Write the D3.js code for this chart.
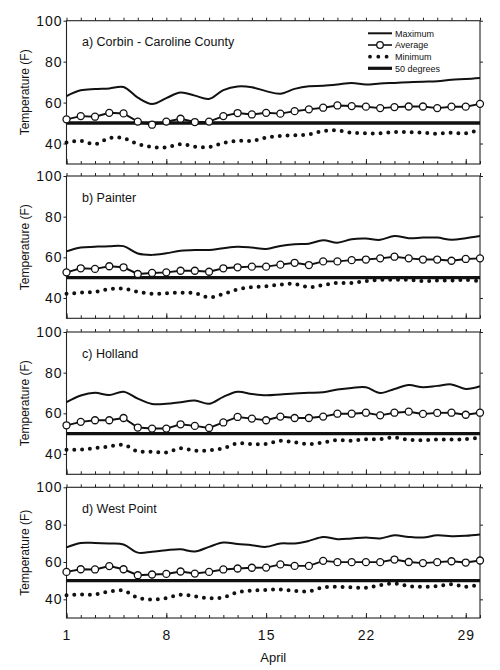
<!DOCTYPE html>
<html>
<head>
<meta charset="utf-8">
<script src="https://cdn.jsdelivr.net/npm/d3@7"></script>
<style>
  body { margin: 0; background: #fff; }
  text { font-family: "Liberation Sans", Arial, sans-serif; fill: #111; }
</style>
</head>
<body>
<div id="chart"></div>
<script>
// days of April
var days = [1,2,3,4,5,6,7,8,9,10,11,12,13,14,15,16,17,18,19,20,21,22,23,24,25,26,27,28,29,30];
var dayLabels = [1, 8, 15, 22, 29];
var yTicks = [40, 60, 80, 100];
var threshold = 50;

var stations = ["a) Corbin - Caroline County", "b) Painter", "c) Holland", "d) West Point"];
var legendNames = ["Maximum", "Average", "Minimum", "50 degrees"];

// (deg F)
var aMax = [63.2,66.0,66.6,66.9,67.6,62.4,59.3,62.2,64.9,63.4,61.8,66.1,67.9,67.5,65.6,64.3,66.7,68.0,68.2,68.8,69.6,68.8,69.3,69.6,69.9,70.2,70.4,71.2,71.5,72.0];
var aAvg = [51.8,53.4,53.1,55.0,54.7,50.7,49.2,50.7,52.1,50.5,50.7,53.4,54.9,54.2,55.0,54.6,55.8,56.7,57.5,58.6,58.3,58.0,57.3,57.8,58.1,58.1,57.3,58.0,58.0,59.4];
var aMin = [40.5,41.3,39.7,42.6,42.6,39.7,38.3,38.1,39.7,38.5,38.3,40.2,41.3,41.3,42.9,43.7,44.0,44.5,46.1,46.4,45.3,45.0,45.0,45.6,45.6,45.3,44.8,45.3,45.0,46.9];

var bMax = [62.9,64.8,65.2,65.5,65.5,61.9,61.2,62.0,63.2,63.6,63.6,64.5,65.2,64.8,64.1,65.6,66.4,66.7,68.4,67.2,68.9,69.2,68.6,70.5,69.4,69.7,69.7,68.6,69.4,70.5];
var bAvg = [52.6,54.6,54.3,55.6,55.1,51.8,52.3,52.6,53.4,53.4,52.9,54.6,55.1,55.4,55.4,56.4,57.3,56.2,58.0,58.0,58.6,58.9,59.5,60.3,59.5,58.9,58.9,58.3,59.2,59.5];
var bMin = [42.1,42.6,43.0,44.4,44.6,43.0,42.1,42.3,42.6,42.4,40.3,42.0,44.2,45.3,45.7,46.6,46.9,45.3,46.4,47.4,47.4,48.3,48.9,48.9,48.9,48.3,48.6,48.6,48.9,48.3];

var cMax = [65.5,68.8,70.1,69.0,70.6,67.2,64.6,64.7,65.5,66.3,64.7,68.1,70.6,69.5,68.9,69.3,69.8,70.1,70.4,71.7,72.5,72.8,70.0,72.0,73.9,72.8,73.5,74.2,72.0,73.3];
var cAvg = [54.1,55.8,56.6,56.6,57.7,53.0,52.5,52.5,54.6,53.8,52.8,55.5,58.2,57.4,56.6,58.4,57.7,57.7,58.4,59.8,59.8,60.3,59.0,60.3,60.8,59.7,60.2,60.3,59.3,60.3];
var cMin = [42.1,42.1,42.9,43.7,44.5,41.3,41.1,40.7,42.8,41.6,41.8,42.8,45.2,44.9,44.9,46.5,45.7,44.9,45.7,46.8,46.5,47.3,47.3,48.1,47.0,46.8,47.1,47.1,47.3,48.1];

var dMax = [67.8,70.2,70.2,69.9,69.4,65.0,65.5,66.3,66.8,65.6,68.1,70.4,69.6,69.0,68.1,69.9,69.9,71.3,73.4,72.2,72.6,73.1,72.6,74.3,73.4,73.1,74.3,73.8,74.0,74.7];
var dAvg = [54.7,56.1,56.0,57.8,56.1,52.9,53.3,53.6,54.9,53.8,54.7,56.0,56.5,56.9,57.0,58.7,57.9,57.9,60.6,59.9,59.9,59.9,59.9,61.3,60.0,59.4,59.9,60.4,59.7,60.8];
var dMin = [42.2,42.6,42.6,44.2,44.7,40.9,39.9,40.6,42.5,41.6,40.6,41.1,43.8,44.7,45.0,45.3,44.5,44.3,46.4,46.7,46.4,46.2,47.6,48.5,47.1,46.7,47.1,48.1,46.7,48.1];

var maxSeries = [aMax, bMax, cMax, dMax];
var avgSeries = [aAvg, bAvg, cAvg, dAvg];
var minSeries = [aMin, bMin, cMin, dMin];

// panel placement (pixels)
var left = 66.5, right = 480;
var panelTop = [20.7, 176, 332, 487.3];
var panelBottom = [164, 318.3, 474.3, 618];

var svg = d3.select("#chart")
  .append("svg")
    .attr("width", 500)
    .attr("height", 670);

var x = d3.scaleLinear()
  .domain([1, 30])
  .range([left, right]);

stations.forEach(function(name, i) {
  var y = d3.scaleLinear()
    .domain([30, 100])
    .range([panelBottom[i], panelTop[i]]);

  var g = svg.append("g");

  // frame
  g.append("rect")
    .attr("x", left)
    .attr("y", panelTop[i])
    .attr("width", right - left)
    .attr("height", panelBottom[i] - panelTop[i])
    .attr("fill", "none")
    .attr("stroke", "#222")
    .attr("stroke-width", 1.1);

  // left axis
  var ya = g.append("g")
    .attr("transform", "translate(" + left + ",0)")
    .call(d3.axisLeft(y).tickValues(yTicks).tickSize(3).tickPadding(1));
  ya.select(".domain").remove();
  ya.selectAll("text")
    .style("font-size", "14px")
    .style("letter-spacing", "1px")
    .attr("fill", "#111");

  // right axis ticks
  var yr = g.append("g")
    .attr("transform", "translate(" + right + ",0)")
    .call(d3.axisRight(y).tickValues(yTicks).tickSize(3).tickFormat(""));
  yr.select(".domain").remove();

  // bottom ticks (daily, inward)
  var xb = g.append("g")
    .attr("transform", "translate(0," + panelBottom[i] + ")")
    .call(d3.axisBottom(x).tickValues(days).tickSizeInner(-3).tickSizeOuter(0).tickFormat(""));
  xb.select(".domain").remove();
  var xbm = g.append("g")
    .attr("transform", "translate(0," + panelBottom[i] + ")")
    .call(d3.axisBottom(x).tickValues(dayLabels).tickSizeInner(-5).tickSizeOuter(0).tickFormat(""));
  xbm.select(".domain").remove();

  // top ticks (daily, outward)
  var xt = g.append("g")
    .attr("transform", "translate(0," + panelTop[i] + ")")
    .call(d3.axisTop(x).tickValues(days).tickSizeInner(3).tickSizeOuter(0).tickFormat(""));
  xt.select(".domain").remove();

  g.selectAll(".tick line").attr("stroke", "#222");

  if (i === stations.length - 1) {
    var xl = g.append("g")
      .attr("transform", "translate(0," + panelBottom[i] + ")")
      .call(d3.axisBottom(x).tickValues(dayLabels).tickSize(0).tickPadding(12));
    xl.select(".domain").remove();
    xl.selectAll("text")
      .style("font-size", "14px")
      .style("letter-spacing", "1px")
      .attr("fill", "#111");
  }

  // y title
  g.append("text")
    .attr("transform", "translate(29," + ((panelTop[i] + panelBottom[i]) / 2) + ") rotate(-90)")
    .attr("text-anchor", "middle")
    .style("font-size", "12px")
    .text("Temperature (F)");

  // station label
  g.append("text")
    .attr("x", 82)
    .attr("y", panelTop[i] + 25.5)
    .style("font-size", "12.5px")
    .text(name);

  // 50 degree line
  g.append("line")
    .attr("x1", x(days[0]))
    .attr("x2", x(days[days.length - 1]))
    .attr("y1", y(threshold))
    .attr("y2", y(threshold))
    .attr("stroke", "#111")
    .attr("stroke-width", 3.4);

  var smooth = d3.line()
    .x(function(d, k) { return x(days[k]); })
    .y(function(d) { return y(d); })
    .curve(d3.curveCatmullRom);

  var straight = d3.line()
    .x(function(d, k) { return x(days[k]); })
    .y(function(d) { return y(d); });

  // minimum: dotted
  g.append("path")
    .attr("d", smooth(minSeries[i]))
    .attr("fill", "none")
    .attr("stroke", "#111")
    .attr("stroke-width", 4)
    .attr("stroke-linecap", "round")
    .attr("stroke-dasharray", "0,7.8");

  // maximum
  g.append("path")
    .attr("d", smooth(maxSeries[i]))
    .attr("fill", "none")
    .attr("stroke", "#111")
    .attr("stroke-width", 2);

  // average
  g.append("path")
    .attr("d", straight(avgSeries[i]))
    .attr("fill", "none")
    .attr("stroke", "#111")
    .attr("stroke-width", 1.9);

  g.selectAll(".avgdot")
    .data(avgSeries[i])
    .enter()
    .append("circle")
      .attr("cx", function(d, k) { return x(days[k]); })
      .attr("cy", function(d) { return y(d); })
      .attr("r", 3.5)
      .attr("fill", "#fff")
      .attr("stroke", "#111")
      .attr("stroke-width", 1.3);
});

// x title
svg.append("text")
  .attr("x", (left + right) / 2)
  .attr("y", 661.5)
  .attr("text-anchor", "middle")
  .style("font-size", "13px")
  .text("April");

// legend (panel a)
var lg = svg.append("g");
var lx1 = 368, lx2 = 392, ltx = 395;
var rowY = [33.3, 45, 56.7, 68.3];

lg.append("line")
  .attr("x1", lx1).attr("x2", lx2).attr("y1", rowY[0]).attr("y2", rowY[0])
  .attr("stroke", "#111").attr("stroke-width", 2);
lg.append("line")
  .attr("x1", lx1).attr("x2", lx2).attr("y1", rowY[1]).attr("y2", rowY[1])
  .attr("stroke", "#111").attr("stroke-width", 1.6);
lg.append("circle")
  .attr("cx", (lx1 + lx2) / 2).attr("cy", rowY[1]).attr("r", 3.3)
  .attr("fill", "#fff").attr("stroke", "#111").attr("stroke-width", 1.3);
lg.append("line")
  .attr("x1", 370).attr("x2", 387).attr("y1", rowY[2]).attr("y2", rowY[2])
  .attr("stroke", "#111").attr("stroke-width", 3.8)
  .attr("stroke-linecap", "round")
  .attr("stroke-dasharray", "0,8.3");
lg.append("line")
  .attr("x1", lx1).attr("x2", lx2).attr("y1", rowY[3]).attr("y2", rowY[3])
  .attr("stroke", "#111").attr("stroke-width", 3.2);

lg.selectAll(".ltext")
  .data(legendNames)
  .enter()
  .append("text")
    .attr("x", ltx)
    .attr("y", function(d, k) { return rowY[k] + 3.3; })
    .style("font-size", "9px")
    .text(function(d) { return d; });
</script>
</body>
</html>
